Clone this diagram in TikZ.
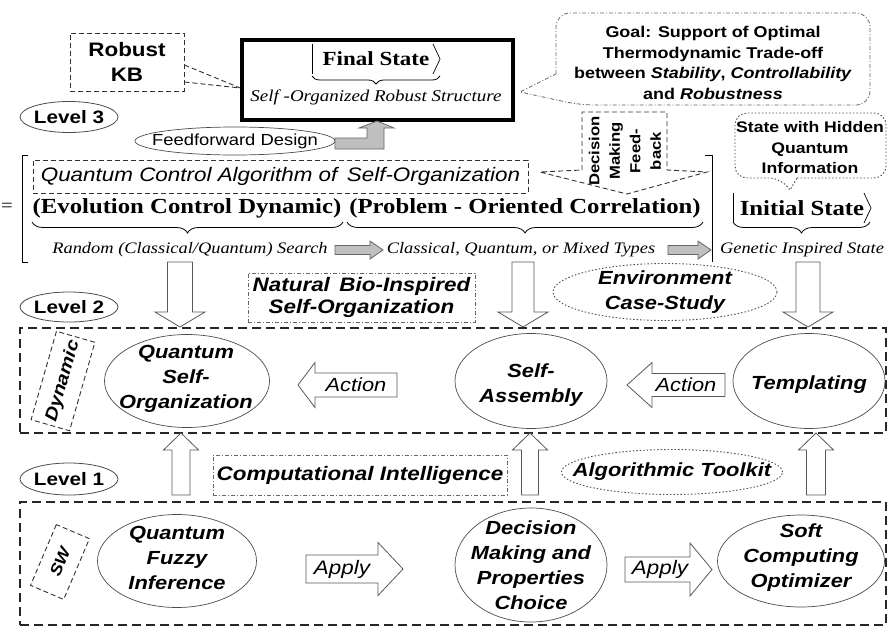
\documentclass[tikz,border=0pt]{standalone}
\usepackage{fontspec}
\setmainfont{Liberation Serif}
\newfontfamily\ssf[FakeStretch=1.15]{Liberation Sans}
\newfontfamily\rmf[FakeStretch=1.15]{Liberation Serif}
\usetikzlibrary{decorations.pathreplacing,shapes.geometric}
\newcommand{\fs}[2]{\fontsize{#1}{#2}\selectfont}
% vertical block arrow: cx, ystart, ybase, ytip, shaft half, head half
\newcommand{\blockv}[6]{\draw[blk] (#1-#5,#2) -- (#1+#5,#2) -- (#1+#5,#3) -- (#1+#6,#3) -- (#1,#4) -- (#1-#6,#3) -- (#1-#5,#3) -- cycle;}
% horizontal block arrow: [style] cy, xstart, xbase, xtip, shaft half, head half
\newcommand{\blockh}[7][blk]{\draw[#1] (#3,#2-#6) -- (#4,#2-#6) -- (#4,#2-#7) -- (#5,#2) -- (#4,#2+#7) -- (#4,#2+#6) -- (#3,#2+#6) -- cycle;}
\begin{document}
\begin{tikzpicture}[x=1pt,y=-1pt,
  dbox/.style={draw=black!80, dash pattern=on 5pt off 3pt, line width=0.9pt},
  ddot/.style={draw=black!60, dash pattern=on 4pt off 2pt on 1pt off 2pt, line width=0.8pt},
  dots/.style={draw=black!70, dash pattern=on 1.5pt off 2pt, line width=0.9pt},
  bigdash/.style={draw=black!85, dash pattern=on 9pt off 5pt, line width=2pt},
  ell/.style={ellipse, draw=black!70, line width=0.7pt, inner sep=0pt},
  lvl/.style={ellipse, draw=black!70, line width=0.8pt, inner sep=0pt, minimum width=98pt, minimum height=31pt},
  lvltxt/.style={font=\ssf\bfseries\fs{18}{20}},
  bi/.style={font=\ssf\bfseries\itshape\fs{19}{25}, align=center},
  blk/.style={draw=black!65, fill=white, line width=0.8pt},
  gblk/.style={draw=black!60, fill=black!25, line width=0.8pt},
  braced/.style={decorate, decoration={brace, mirror, amplitude=#1}, line width=0.8pt},
  braced/.default=10pt]
\useasboundingbox (0,0) rectangle (888,627);

% ---------- Level 3 ----------
\node[dbox, minimum width=114pt, minimum height=58pt, align=center,
      font=\ssf\bfseries\fs{19.5}{25}] (kb) at (127,62) {Robust\\KB};
\node[draw, line width=3.5pt, minimum width=271pt, minimum height=80pt] (fsb) at (377.5,80) {};
\node[font=\rmf\bfseries\fs{20}{22}] (fst) at (376,59) {Final State};
\draw[line width=0.7pt] (312,44) -- (312,74);
\draw[line width=0.7pt] (433,44) -- (440,59) -- (433,74);
\draw[braced=8pt] (312,76) -- (440,76);
\node[font=\rmf\itshape\fs{16.5}{18}] (fss) at (376,97) {Self -Organized Robust Structure};
\draw[dbox] ([yshift=-3pt]kb.east) -- ([yshift=-8pt]fsb.west);
\draw[dbox] ([yshift=-20pt]kb.east) -- ([yshift=-8pt]fsb.west);

% goal callout
\draw[ddot] (556,74) [rounded corners=14pt] -- (556,13) -- (870,13) -- (870,105) -- (580,105) [sharp corners] -- (520,92) -- cycle;
\node[font=\ssf\bfseries\fs{15.6}{20.5}, align=center] (goal) at (713,63)
  {Goal: Support of Optimal\\Thermodynamic Trade-off\\between \textit{Stability}, \textit{Controllability}\\and \textit{Robustness}};

% level 3 ellipse and feedforward
\node[lvl] (l3) at (69,117) {};
\node[lvltxt] at (l3) {Level 3};
\node[ell, minimum width=200pt, minimum height=28pt] (ff) at (235,141) {};
\node[font=\ssf\fs{16}{18}] at (ff) {Feedforward Design};
\draw[gblk] (335,138) -- (367,138) -- (367,128) -- (359,128) -- (377,121) -- (394,128) -- (384,128) -- (384,149) -- (335,149) -- cycle;

% decision making feedback
\draw[dbox] (582,170) -- (582,112) -- (667,112) -- (667,170) -- (707,172) -- (627,194) -- (540,172) -- cycle;
\node[rotate=90, font=\ssf\bfseries\fs{14.5}{20.5}, align=center] (dmf) at (625,151) {Decision\\Making\\Feed-\\back};

% state with hidden quantum information
\draw[dots] (797,178) [rounded corners=12pt] -- (886,178) -- (886,113) -- (735,113) -- (735,178) -- (781,178) [sharp corners] -- (790,190) -- cycle;
\node[font=\ssf\bfseries\fs{15.3}{20.5}, align=center] (shq) at (810,148) {State with Hidden\\Quantum\\Information};

% quantum control algorithm
\node[dbox, line width=0.7pt, minimum width=495pt, minimum height=33pt, font=\ssf\itshape\fs{19.5}{21}] (qca) at (280.5,176.5) {Quantum Control Algorithm of\, Self-Organization};

% brackets
\node[font=\rmf\fs{18}{20}] (eq) at (7,207) {=};
\draw[line width=0.8pt] (28,155) -- (22,155) -- (22,262) -- (28,262);
\draw[line width=0.8pt] (705,155) -- (712,155) -- (712,262);

\node[font=\rmf\bfseries\fs{21.5}{24}] (ecd) at (187,208) {(Evolution Control Dynamic)};
\node[font=\rmf\bfseries\fs{21.5}{24}] (poc) at (525,208) {(Problem - Oriented Correlation)};
\node[font=\rmf\bfseries\fs{21.5}{24}] (ist) at (802,208) {Initial State};
\draw[line width=0.7pt] (733,193) -- (733,223);
\draw[line width=0.7pt] (864,193) -- (871,208) -- (864,223);
\draw[braced=11pt] (32,222) -- (343,222);
\draw[braced=11pt] (347,222) -- (703,222);
\draw[braced=11pt] (733,222) -- (870,222);

\node[font=\rmf\itshape\fs{16}{18}] (r1) at (190,250) {Random (Classical/Quantum) Search};
\node[font=\rmf\itshape\fs{16}{18}] (r2) at (521,250) {Classical, Quantum, or Mixed Types};
\node[font=\rmf\itshape\fs{16}{18}] (r3) at (802,250) {Genetic Inspired State};
\blockh[gblk]{250}{335}{370}{383}{4.5}{9}
\blockh[gblk]{250}{668}{698}{711}{4.5}{9}

% ---------- Level 2 ----------
\node[lvl, minimum height=30pt] (l2) at (69,307) {};
\node[lvltxt] at (l2) {Level 2};
\blockv{180}{262}{312}{327}{12.5}{25}
\blockv{523}{262}{312}{327}{11}{25}
\blockv{808}{262}{312}{327}{12}{25}
\node[ddot, minimum width=227pt, minimum height=49pt, bi, font=\ssf\bfseries\itshape\fs{19.5}{22}] (nbio) at (361.5,297.5) {Natural\, Bio-Inspired\\Self-Organization};
\node[ell, dots, minimum width=224pt, minimum height=57pt] (env) at (665,292) {};
\node[bi] at (env) {Environment\\Case-Study};

\node[bigdash, minimum width=866pt, minimum height=105pt] (l2box) at (453,380.5) {};
\node[dbox, rotate=74, minimum width=92pt, minimum height=40pt, font=\ssf\bfseries\itshape\fs{17.5}{20}] (dyn) at (63,381) {Dynamic};

\node[ell, minimum width=165pt, minimum height=93pt] (qso) at (187,381) {};
\node[bi] at (186,379) {Quantum\\Self-\\Organization};
\node[ell, minimum width=152pt, minimum height=95pt] (sa) at (531,381) {};
\node[bi] at (531,385) {Self-\\Assembly};
\node[ell, minimum width=152pt, minimum height=95pt] (tmp) at (809,381) {};
\node[bi] at (809,385) {Templating};

\blockh{385}{397}{315}{298}{12}{22.5}
\node[font=\ssf\itshape\fs{19}{21}] (act1) at (356,385) {Action};
\blockh{385}{725}{652}{627}{11.5}{22.5}
\node[font=\ssf\itshape\fs{19}{21}] (act2) at (686,385) {Action};

% ---------- Level 1 ----------
\blockv{181}{495}{450}{433}{9}{17.5}
\blockv{530}{495}{450}{433}{8.5}{17.5}
\blockv{816}{495}{450}{433}{9.5}{17.5}
\node[lvl, minimum height=32pt] (l1) at (69,479) {};
\node[lvltxt] at (l1) {Level 1};
\node[ddot, minimum width=294pt, minimum height=40pt, font=\ssf\bfseries\itshape\fs{19.5}{22}] (ci) at (360,475) {Computational Intelligence};
\node[ell, dots, minimum width=221pt, minimum height=45pt] (at) at (672,472) {};
\node[bi] at (at) {Algorithmic Toolkit};

\node[bigdash, minimum width=866pt, minimum height=123pt] (l1box) at (453,563.5) {};
\node[dbox, rotate=67, minimum width=66pt, minimum height=36pt, font=\ssf\bfseries\itshape\fs{16}{18}] (sw) at (60,562) {SW};

\node[ell, minimum width=159pt, minimum height=93pt] (qfi) at (177,561) {};
\node[bi] at (177,558) {Quantum\\Fuzzy\\Inference};
\node[ell, minimum width=152pt, minimum height=114pt] (dm) at (531,565) {};
\node[bi] at (531,565) {Decision\\Making and\\Properties\\Choice};
\node[ell, minimum width=167pt, minimum height=92pt] (sco) at (801,561) {};
\node[bi] at (801,558) {Soft\\Computing\\Optimizer};

\blockh{569}{306}{378}{403}{14}{26.5}
\node[font=\ssf\itshape\fs{19.5}{21}] (ap1) at (342,569) {Apply};
\blockh{569.5}{625}{690}{712}{12.5}{26.5}
\node[font=\ssf\itshape\fs{19.5}{21}] (ap2) at (660,569) {Apply};
\end{tikzpicture}
\end{document}
